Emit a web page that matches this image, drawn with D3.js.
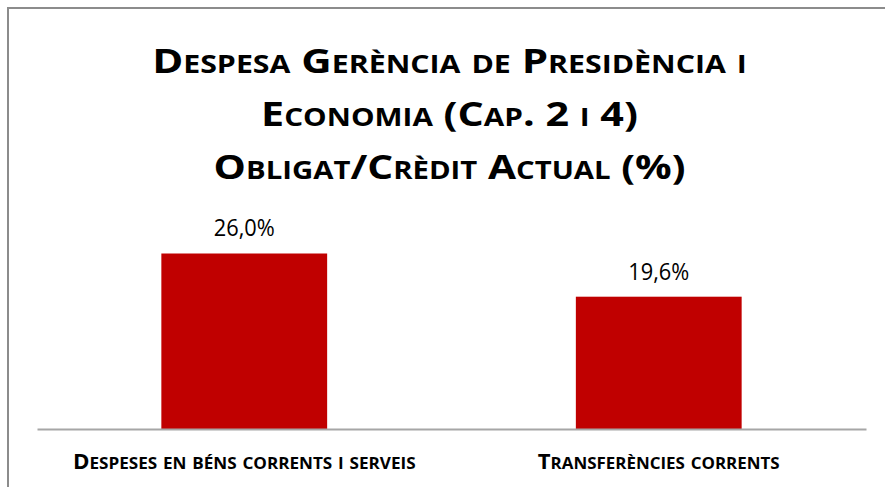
<!DOCTYPE html>
<html>
<head>
<meta charset="utf-8">
<script src="https://cdn.jsdelivr.net/npm/d3@7"></script>
<style>
  html, body { margin: 0; padding: 0; background: #fff; }
  svg { display: block; }
</style>
</head>
<body>
<script>
// Chart data
const titleLines = [
  "Despesa Gerència de Presidència i",
  "Economia (Cap. 2 i 4)",
  "Obligat/Crèdit Actual (%)"
];
const categories = ["Despeses en béns corrents i serveis", "Transferències corrents"];
const values = [26.0, 19.6];
const valueLabels = ["26,0%", "19,6%"];

const W = 885, H = 487;
const svg = d3.select("body").append("svg").attr("width", W).attr("height", H);

// Outer chart frame (runs off the right and bottom edges)
svg.append("rect")
  .attr("x", 8).attr("y", 8)
  .attr("width", W + 20).attr("height", H + 20)
  .attr("fill", "#fff")
  .attr("stroke", "#8c8c8c")
  .attr("stroke-width", 2);

const boldFont = "'Open Sans', 'Noto Sans', sans-serif";
const textFont = "'Open Sans', 'Noto Sans', sans-serif";

// Render a string in small caps: original capitals at full size,
// lowercase letters as capitals at a reduced size.
function smallCaps(textSel, str, big, small) {
  const runs = [];
  for (const ch of str) {
    const isLower = ch !== ch.toUpperCase();
    const last = runs[runs.length - 1];
    if (last && last.lower === isLower) last.text += ch;
    else runs.push({ lower: isLower, text: ch });
  }
  textSel.selectAll("tspan").data(runs).join("tspan")
    .attr("font-size", d => d.lower ? small : big)
    .text(d => d.text.toUpperCase());
}

// Fit a text element to a target width by horizontal scaling around cx
function fitWidth(sel, cx, target) {
  const w = sel.node().getComputedTextLength();
  const k = target / w;
  sel.attr("transform", `translate(${cx},0) scale(${k},1) translate(${-cx},0)`);
}

// Title
const titleX = 449.5;
const titleBaselines = [73, 126, 179];
const titleWidths = [595, 377, 472];
titleLines.forEach((line, i) => {
  const t = svg.append("text")
    .attr("x", titleX).attr("y", titleBaselines[i])
    .attr("text-anchor", "middle")
    .attr("font-family", boldFont)
    .attr("font-weight", 700)
    .attr("fill", "#000");
  smallCaps(t, line, 34, 24.5);
  fitWidth(t, titleX, titleWidths[i]);
});

// Plot area
const plot = { left: 37, right: 866, top: 226.5, bottom: 429 };

const x = d3.scaleBand()
  .domain(categories)
  .range([plot.left, plot.right])
  .paddingInner(0.6)
  .paddingOuter(0.3);

const y = d3.scaleLinear()
  .domain([0, 30])
  .range([plot.bottom, plot.top]);

// Bars
svg.append("g").selectAll("rect")
  .data(values)
  .join("rect")
  .attr("x", (d, i) => x(categories[i]))
  .attr("y", d => y(d))
  .attr("width", x.bandwidth())
  .attr("height", d => y(0) - y(d))
  .attr("fill", "#c00000");

// Category axis line
const axis = svg.append("g")
  .attr("transform", `translate(0,${y(0)})`)
  .call(d3.axisBottom(x).tickSize(0).tickFormat(""));
axis.select(".domain")
  .attr("stroke", "#a6a6a6")
  .attr("stroke-width", 2);

// Value labels
svg.append("g").selectAll("text")
  .data(values)
  .join("text")
  .attr("x", (d, i) => x(categories[i]) + x.bandwidth() / 2)
  .attr("y", d => y(d) - 17)
  .attr("text-anchor", "middle")
  .attr("font-family", textFont)
  .attr("font-size", 23)
  .attr("fill", "#000")
  .text((d, i) => valueLabels[i])
  .each(function (d, i) {
    fitWidth(d3.select(this), x(categories[i]) + x.bandwidth() / 2, 61);
  });

// Category labels
const catWidths = [343, 242];
categories.forEach((c, i) => {
  const cx = x(c) + x.bandwidth() / 2;
  const t = svg.append("text")
    .attr("x", cx).attr("y", 469)
    .attr("text-anchor", "middle")
    .attr("font-family", boldFont)
    .attr("font-weight", 700)
    .attr("fill", "#000");
  smallCaps(t, c, 21.5, 16.5);
  fitWidth(t, cx, catWidths[i]);
});
</script>
</body>
</html>
